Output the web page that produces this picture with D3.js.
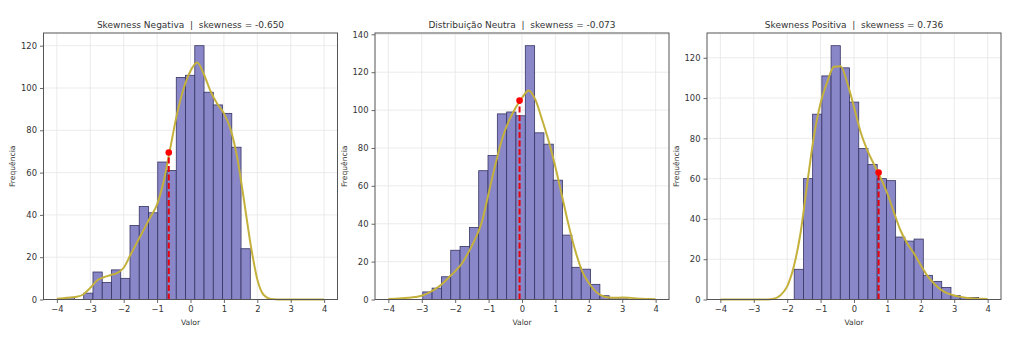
<!DOCTYPE html>
<html>
<head>
<meta charset="utf-8">
<script src="https://cdn.jsdelivr.net/npm/d3@7"></script>
<style>
  html, body { margin: 0; padding: 0; background: #ffffff; }
  svg { display: block; font-family: "DejaVu Sans", sans-serif; }
  text { white-space: pre; }
</style>
</head>
<body>
<svg id="chart" width="1024" height="346"></svg>
<script>
// Panel titles and skewness of each sample
const panelNames = ["Skewness Negativa", "Distribuição Neutra", "Skewness Positiva"];
const skewValues = [-0.650, -0.073, 0.736];

// Histogram bins (equal-width bins per sample, n = 1000)
const binStarts = [-3.75, -2.97, -1.79];
const binWidths = [0.277, 0.279, 0.276];
const countsNeg = [1, 0, 3, 13, 8, 14, 10, 35, 44, 41, 65, 61, 105, 106, 120, 98, 92, 88, 72, 24];
const countsNeutral = [4, 6, 12, 26, 28, 38, 68, 76, 98, 99, 97, 134, 88, 82, 63, 34, 17, 16, 8, 2, 1, 1];
const countsPos = [15, 60, 92, 111, 126, 115, 98, 75, 67, 60, 59, 31, 29, 30, 12, 9, 6, 2, 1, 1];

// Density curves (scaled to counts) sampled on a common grid
const kdeGrid = [-4.0, -3.8, -3.6, -3.4, -3.2, -3.0, -2.8, -2.6, -2.4, -2.2, -2.0,
                 -1.8, -1.6, -1.4, -1.2, -1.0, -0.8, -0.6, -0.4, -0.2, 0.0,
                 0.2, 0.4, 0.6, 0.8, 1.0, 1.2, 1.4, 1.6, 1.8, 2.0,
                 2.2, 2.4, 2.6, 2.8, 3.0, 3.2, 3.4, 3.6, 3.8, 4.0];
const kdeNeg = [0.3, 0.6, 1.0, 1.3, 2.5, 5.5, 9.0, 10.5, 11.5, 12.5, 15,
                21, 27, 33, 39, 45, 56, 72, 88, 100, 108,
                112, 106.5, 98.5, 92.5, 88, 80.5, 67, 47, 26, 9.5,
                2, 0.3, 0.05, 0, 0, 0, 0, 0, 0, 0];
const kdeNeutral = [0.3, 0.4, 0.6, 0.9, 1.3, 2.0, 3.5, 5.5, 8, 11.5, 15,
                    19, 25, 32, 41, 56, 71, 84.5, 94, 101, 106.5,
                    110.4, 105.5, 95, 83.5, 70, 54.5, 39, 25.5, 15, 8.7,
                    4.3, 1.9, 1.0, 0.9, 1.0, 0.9, 0.6, 0.35, 0.2, 0.1];
const kdePos = [0, 0, 0, 0, 0, 0, 0, 0.05, 0.4, 2.1, 6.5,
                16.5, 33, 57.5, 81, 97.5, 108, 115.5, 115.8, 107.5, 95.5,
                83, 74, 67, 60.3, 52.5, 43, 34, 27.7, 22.7, 17,
                11.7, 7.8, 4.9, 3, 2, 1.3, 0.8, 0.5, 0.35, 0.3];

// Height of the density curve at the skewness marker
const markerHeights = [69.5, 105, 63];

const xTicks = [-4, -3, -2, -1, 0, 1, 2, 3, 4];
const yTickSets = [[0, 20, 40, 60, 80, 100, 120],
                   [0, 20, 40, 60, 80, 100, 120, 140],
                   [0, 20, 40, 60, 80, 100, 120]];

const countsAll = [countsNeg, countsNeutral, countsPos];
const kdeAll = [kdeNeg, kdeNeutral, kdePos];

const svg = d3.select("#chart");
const panelLefts = [43.5, 375, 707];
const panelW = 294;
const plotTop = 33, plotBottom = 299.5;

const barFill = "#8a87c9", barStroke = "#363463";
const kdeColor = "#c4b13c";
const gridColor = "#e6e6e6";
const fmtMinus = d => String(d).replace("-", "\u2212");

panelNames.forEach((name, i) => {
  const counts = countsAll[i];
  const ymax = d3.max(counts) * 1.05;
  const x = d3.scaleLinear().domain([-4.4, 4.4]).range([panelLefts[i], panelLefts[i] + panelW]);
  const y = d3.scaleLinear().domain([0, ymax]).range([plotBottom, plotTop]);
  const g = svg.append("g");

  // grid
  g.append("g").selectAll("line").data(xTicks).join("line")
    .attr("x1", d => x(d)).attr("x2", d => x(d))
    .attr("y1", plotTop).attr("y2", plotBottom)
    .attr("stroke", gridColor).attr("stroke-width", 0.8);
  g.append("g").selectAll("line").data(yTickSets[i]).join("line")
    .attr("x1", x.range()[0]).attr("x2", x.range()[1])
    .attr("y1", d => y(d)).attr("y2", d => y(d))
    .attr("stroke", gridColor).attr("stroke-width", 0.8);

  // histogram bars
  const bins = counts.map((c, k) => ({
    x0: binStarts[i] + k * binWidths[i],
    x1: binStarts[i] + (k + 1) * binWidths[i],
    c
  })).filter(b => b.c > 0);
  g.append("g").selectAll("rect").data(bins).join("rect")
    .attr("x", d => x(d.x0))
    .attr("width", d => x(d.x1) - x(d.x0))
    .attr("y", d => y(d.c))
    .attr("height", d => y(0) - y(d.c))
    .attr("fill", barFill)
    .attr("stroke", barStroke)
    .attr("stroke-width", 0.8);

  // density curve
  const line = d3.line()
    .x((d, k) => x(kdeGrid[k]))
    .y(d => y(d))
    .curve(d3.curveMonotoneX);
  g.append("path").datum(kdeAll[i])
    .attr("d", line)
    .attr("fill", "none")
    .attr("stroke", kdeColor)
    .attr("stroke-width", 2);

  // skewness marker
  g.append("line")
    .attr("x1", x(skewValues[i])).attr("x2", x(skewValues[i]))
    .attr("y1", y(0)).attr("y2", y(markerHeights[i]))
    .attr("stroke", "#e8000b").attr("stroke-width", 2)
    .attr("stroke-dasharray", "6,2.5");
  g.append("circle")
    .attr("cx", x(skewValues[i])).attr("cy", y(markerHeights[i]))
    .attr("r", 3.3).attr("fill", "#ff0000");

  // axes
  const xAxis = d3.axisBottom(x).tickValues(xTicks).tickSize(3.5).tickPadding(3).tickFormat(fmtMinus);
  const gx = g.append("g").attr("transform", `translate(0,${plotBottom})`).call(xAxis);
  const yAxis = d3.axisLeft(y).tickValues(yTickSets[i]).tickSize(3.5).tickPadding(3);
  const gy = g.append("g").attr("transform", `translate(${panelLefts[i]},0)`).call(yAxis);
  [gx, gy].forEach(a => {
    a.select(".domain").remove();
    a.selectAll(".tick line").attr("stroke", "#444").attr("stroke-width", 0.8);
    a.selectAll(".tick text").attr("fill", "#333").style("font-size", "8.4px")
      .style("font-family", "DejaVu Sans");
  });

  // frame
  g.append("rect")
    .attr("x", panelLefts[i]).attr("y", plotTop)
    .attr("width", panelW).attr("height", plotBottom - plotTop)
    .attr("fill", "none").attr("stroke", "#555").attr("stroke-width", 1);

  // title and labels
  g.append("text")
    .attr("x", panelLefts[i] + panelW / 2).attr("y", 28)
    .attr("text-anchor", "middle").attr("fill", "#333")
    .style("font-size", "9px")
    .text(`${name}  |  skewness = ${skewValues[i].toFixed(3)}`);
  g.append("text")
    .attr("x", panelLefts[i] + panelW / 2).attr("y", 325)
    .attr("text-anchor", "middle").attr("fill", "#333")
    .style("font-size", "7.6px")
    .text("Valor");
  g.append("text")
    .attr("transform", `translate(${panelLefts[i] - 28.5},${(plotTop + plotBottom) / 2}) rotate(-90)`)
    .attr("text-anchor", "middle").attr("fill", "#333")
    .style("font-size", "7.6px")
    .text("Frequência");
});
</script>
</body>
</html>
